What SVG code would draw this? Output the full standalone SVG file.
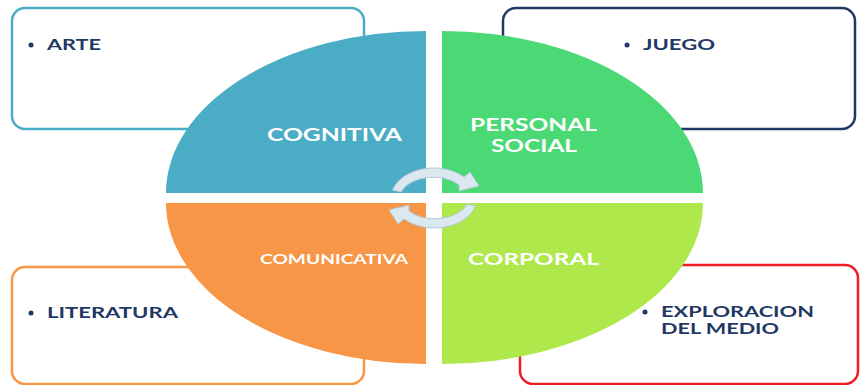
<svg xmlns="http://www.w3.org/2000/svg" width="860" height="385" viewBox="0 0 860 385">
<defs>
<style>
.box{fill:#fff;stroke-width:2.5}
.item{font-family:"Lato","Open Sans","Liberation Sans",sans-serif;font-weight:bold;font-size:15px;fill:#1F3864}
.lbl{font-family:"Lato","Open Sans","Liberation Sans",sans-serif;font-weight:bold;fill:#fff}
.arr{fill:#DCE8EF;stroke:#B4C8D6;stroke-width:1}
</style>
</defs>
<rect width="860" height="385" fill="#fff"/>
<g id="box-arte">
<rect class="box" x="12" y="8" width="352" height="121" rx="13" stroke="#4BACC6"/>
<circle cx="31" cy="45" r="2.5" fill="#1F3864"/>
<text class="item" x="47" y="50" textLength="54" lengthAdjust="spacingAndGlyphs">ARTE</text>
</g>
<g id="box-juego">
<rect class="box" x="503" y="8" width="352" height="121" rx="13" stroke="#1F3864"/>
<circle cx="627" cy="45" r="2.5" fill="#1F3864"/>
<text class="item" x="643" y="50" textLength="72" lengthAdjust="spacingAndGlyphs">JUEGO</text>
</g>
<g id="box-literatura">
<rect class="box" x="12" y="267" width="352" height="117" rx="13" stroke="#F79646"/>
<circle cx="31" cy="313" r="2.5" fill="#1F3864"/>
<text class="item" x="47" y="318" textLength="131" lengthAdjust="spacingAndGlyphs">LITERATURA</text>
</g>
<g id="box-exploracion">
<rect class="box" x="520" y="265" width="338" height="119" rx="13" stroke="#EE1C25"/>
<circle cx="645" cy="312" r="2.5" fill="#1F3864"/>
<text class="item" x="661" y="317" textLength="153" lengthAdjust="spacingAndGlyphs">EXPLORACION</text>
<text class="item" x="661" y="334" textLength="118" lengthAdjust="spacingAndGlyphs">DEL MEDIO</text>
</g>
<g id="q-cognitiva">
<path d="M426,193 L166,193 A260,162 0 0 1 426,31 Z" fill="#4BACC6"/>
<text class="lbl" x="267" y="141" font-size="16.5" textLength="135" lengthAdjust="spacingAndGlyphs">COGNITIVA</text>
</g>
<g id="q-personal">
<path d="M442,193 L442,31 A261,162 0 0 1 703,193 Z" fill="#4AD975"/>
<text class="lbl" x="470" y="131" font-size="16.5" textLength="127" lengthAdjust="spacingAndGlyphs">PERSONAL</text>
<text class="lbl" x="491" y="152" font-size="16.5" textLength="86" lengthAdjust="spacingAndGlyphs">SOCIAL</text>
</g>
<g id="q-comunicativa">
<path d="M426,203 L426,364 A260,161 0 0 1 166,203 Z" fill="#F79646"/>
<text class="lbl" x="260" y="264" font-size="13.5" textLength="148" lengthAdjust="spacingAndGlyphs">COMUNICATIVA</text>
</g>
<g id="q-corporal">
<path d="M442,203 L703,203 A261,161 0 0 1 442,364 Z" fill="#AEE84A"/>
<text class="lbl" x="468" y="265" font-size="17" textLength="131" lengthAdjust="spacingAndGlyphs">CORPORAL</text>
</g>
<g id="connectors">
<path class="arr" d="M392.5,190 A43,31 0 0 1 464,177 L470,172 L479,186 L459,191 L459,185 A34,22 0 0 0 401,192 Z"/>
<path class="arr" d="M475.5,206 A43,31 0 0 1 404,219 L398,224 L389,210 L409,205 L409,211 A34,22 0 0 0 467,204 Z"/>
</g>
</svg>
